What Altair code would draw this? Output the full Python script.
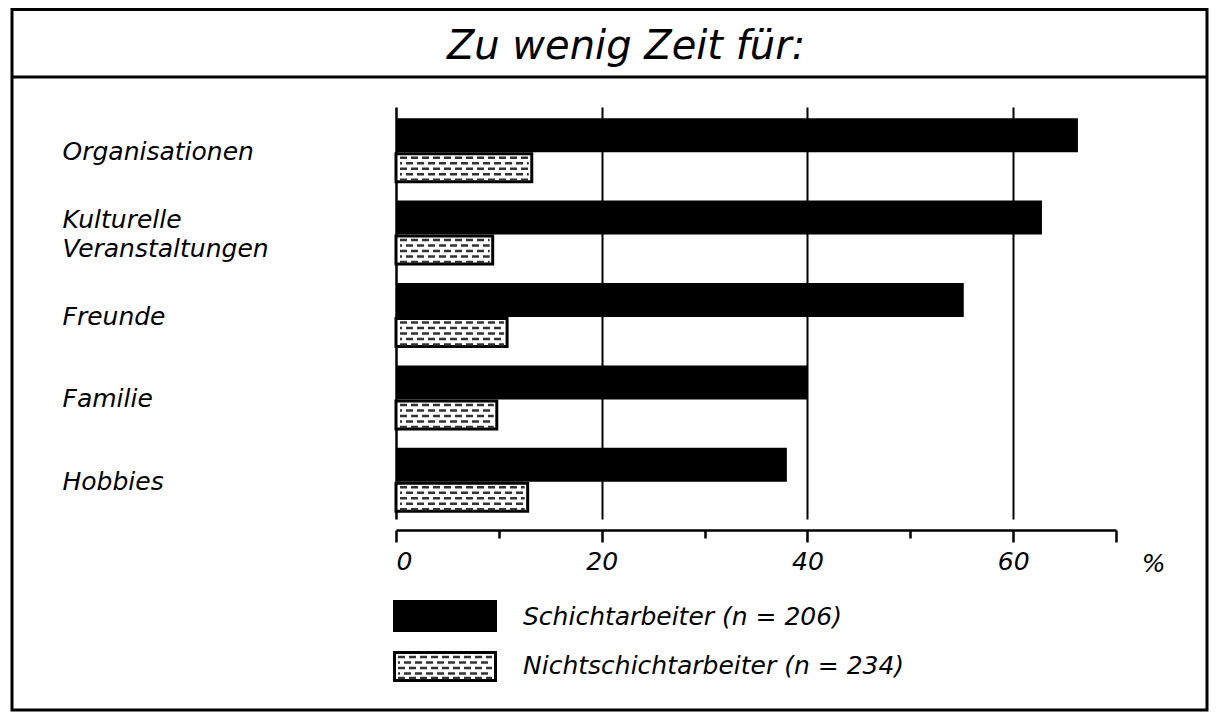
import altair as alt
import pandas as pd

TITLE = "Zu wenig Zeit für:"
categories = ["Organisationen", "Kulturelle Veranstaltungen", "Freunde", "Familie", "Hobbies"]
schicht = [66.3, 62.8, 55.2, 40.0, 38.0]
nicht = [13.2, 9.4, 10.8, 9.8, 12.8]
series = ["Schichtarbeiter (n = 206)", "Nichtschichtarbeiter (n = 234)"]
x_ticks = [0, 10, 20, 30, 40, 50, 60, 70]

FONT = "DejaVu Sans"
W, H = 720, 430

df = pd.DataFrame({"cat": categories, "schicht": schicht, "nicht": nicht})

y_enc = alt.Y("cat:N", sort=categories,
              scale=alt.Scale(range=[11, 423], paddingInner=0, paddingOuter=0),
              axis=alt.Axis(title=None, ticks=False, grid=False, domain=False,
                            labelAlign="left", labelPadding=334, labelBaseline="middle",
                            labelFont=FONT, labelFontStyle="italic", labelFontSize=25,
                            labelColor="black", labelLineHeight=29, labelLimit=500,
                            labelOffset={"condition": {"test": "indexof(datum.label, ' ') > 0", "value": -15}, "value": 0},
                            labelExpr="split(datum.label, ' ')"))

x_scale = alt.Scale(domain=[0, 70], nice=False, zero=True)
x_axis = alt.Axis(values=x_ticks, title="%", titleX=757, titleY=33,
                  titleFont=FONT, titleFontStyle="italic", titleFontWeight="normal",
                  titleFontSize=25, titleColor="black", titleBaseline="middle",
                  titleAngle=0, titleAlign="center",
                  domainColor="black", domainWidth=2.5,
                  tickColor="black", tickWidth=2.5,
                  tickSize={"condition": {"test": "datum.value == 10 || datum.value == 30 || datum.value == 50", "value": 8}, "value": 12},
                  labelExpr="(datum.value % 20 == 0 && datum.value < 70) ? datum.label : ''",
                  labelFont=FONT, labelFontStyle="italic", labelFontSize=25,
                  labelColor="black", labelPadding=7,
                  grid=True, gridColor="black",
                  gridWidth={"condition": {"test": "datum.value == 0", "value": 2.5}, "value": 2},
                  gridOpacity={"condition": {"test": "datum.value == 0 || datum.value == 20 || datum.value == 40 || datum.value == 60", "value": 1}, "value": 0})

base = alt.Chart(df)

black = base.mark_bar(color="black", size=34, yOffset=-17).encode(
    x=alt.X("schicht:Q", scale=x_scale, axis=x_axis),
    y=y_enc,
)

hatch = base.mark_bar(fill="white", stroke="black", strokeWidth=3, size=28, yOffset=15.5).encode(
    x=alt.X("nicht:Q"),
    y=alt.Y("cat:N", sort=categories),
)

dash_layers = []
for i, off in enumerate([5.5, 11, 16.5, 22, 27.5]):
    dash_layers.append(
        base.transform_calculate(zero="0").mark_rule(
            color="#333333", strokeWidth=2.5, strokeDash=[7, 4],
            strokeDashOffset=(0 if i % 2 == 0 else 5),
            yOffset=off, xOffset=4, x2Offset=-3).encode(
            x=alt.X("zero:Q"),
            x2=alt.X2("nicht"),
            y=alt.Y("cat:N", sort=categories),
        )
    )

one = alt.Data(values=[{"a": 1}])

frame = alt.Chart(one).mark_rect(fill="white", fillOpacity=0, stroke="black", strokeWidth=3).encode(
    x=alt.value(-384), x2=alt.value(811), y=alt.value(-90.5), y2=alt.value(610))
sep = alt.Chart(one).mark_rule(color="black", strokeWidth=3).encode(
    x=alt.value(-384), x2=alt.value(811), y=alt.value(-23))
title = alt.Chart(pd.DataFrame({"t": [TITLE]})).mark_text(
    font=FONT, fontStyle="italic", fontSize=40, align="center", baseline="middle", color="black").encode(
    x=alt.value(230), y=alt.value(-53), text="t:N")

leg_black = alt.Chart(one).mark_rect(color="black").encode(
    x=alt.value(-3), x2=alt.value(101), y=alt.value(500), y2=alt.value(532))
leg_hatch = alt.Chart(one).mark_rect(fill="white", stroke="black", strokeWidth=3).encode(
    x=alt.value(-1.5), x2=alt.value(99.5), y=alt.value(552.5), y2=alt.value(580.5))
leg_dashes = []
for i, yy in enumerate([557, 562.5, 568, 573.5, 578]):
    leg_dashes.append(alt.Chart(one).mark_rule(color="#333333", strokeWidth=2.5, strokeDash=[7, 4],
                                               strokeDashOffset=(0 if i % 2 == 0 else 5)).encode(
        x=alt.value(2), x2=alt.value(96), y=alt.value(yy)))
leg_text1 = alt.Chart(pd.DataFrame({"s": [series[0]]})).mark_text(
    font=FONT, fontStyle="italic", fontSize=25, align="left", baseline="middle", color="black").encode(
    x=alt.value(127), y=alt.value(517), text="s:N")
leg_text2 = alt.Chart(pd.DataFrame({"s": [series[1]]})).mark_text(
    font=FONT, fontStyle="italic", fontSize=25, align="left", baseline="middle", color="black").encode(
    x=alt.value(127), y=alt.value(566), text="s:N")

chart = alt.layer(
    black, hatch, *dash_layers,
    frame, sep, title, leg_black, leg_hatch, *leg_dashes, leg_text1, leg_text2
).properties(
    width=W, height=H,
    background="white",
    autosize=alt.AutoSizeParams(type="none"),
    padding={"left": 388, "top": 92, "right": 93, "bottom": 182},
).configure_view(strokeWidth=0)

chart.save("out.html", embed_options={"renderer": "svg", "actions": False})
